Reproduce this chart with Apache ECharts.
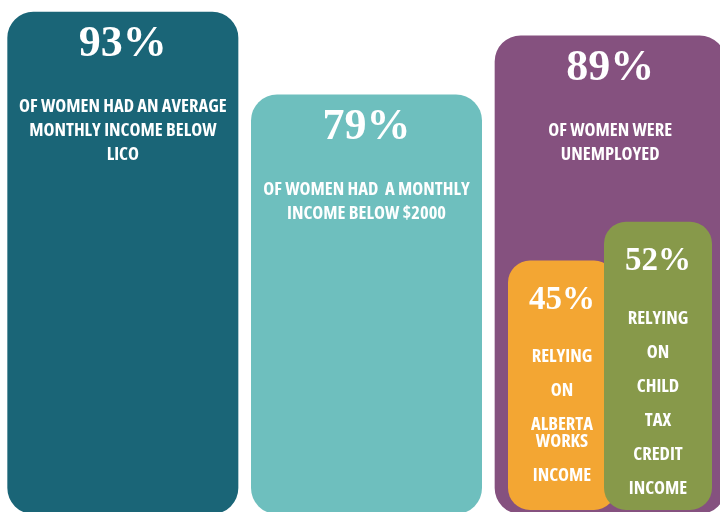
<!DOCTYPE html>
<html>
<head>
<meta charset="utf-8">
<script src="https://cdn.jsdelivr.net/npm/echarts@6/dist/echarts.min.js"></script>
<style>
  html, body { margin: 0; padding: 0; background: #fff; }
  #chart { width: 720px; height: 512px; }
</style>
</head>
<body>
<div id="chart"></div>
<script>
const mainCategories = ['Below LICO', 'Below $2000', 'Unemployed'];
const mainPercent = [93, 79, 89];
const mainCaptions = [
  ['OF WOMEN HAD AN AVERAGE', 'MONTHLY INCOME BELOW', 'LICO'],
  ['OF WOMEN HAD  A MONTHLY', 'INCOME BELOW $2000'],
  ['OF WOMEN WERE', 'UNEMPLOYED']
];
const mainColors = ['#1a6577', '#6ebfbe', '#85517f'];

const subCategories = ['Alberta Works', 'Child Tax Credit'];
const subPercent = [45, 52];
const subCaptions = [
  ['RELYING', 'ON', 'ALBERTA WORKS', 'INCOME'],
  ['RELYING', 'ON', 'CHILD', 'TAX', 'CREDIT', 'INCOME']
];
const subColors = ['#f3a633', '#87994a'];

const serif = '"Liberation Serif", "DejaVu Serif", serif';
// Open Sans has a width axis, so "condensed" gives a narrow poster face
const caps = { fontFamily: '"Open Sans", sans-serif', fontWeight: 'bold condensed', fontSize: 18.5, color: '#fff' };

function mainLabel(p) {
  const lines = mainCaptions[p.dataIndex].map(l => '{t|' + l + '}').join('\n');
  return '{p|' + mainPercent[p.dataIndex] + '%}\n{g| }\n' + lines;
}

function subLabel(p) {
  // words of one caption item wrap tightly, items get an empty line between them
  const items = subCaptions[p.dataIndex].map(item =>
    item.split(' ').map(w => '{u|' + w + '}').join('\n'));
  return '{p|' + subPercent[p.dataIndex] + '%}\n{g| }\n' + items.join('\n{s| }\n');
}

const chart = echarts.init(document.getElementById('chart'));
chart.setOption({
  backgroundColor: '#fff',
  animation: false,
  grid: [
    { left: 1, width: 731, top: 0, bottom: -2, outerBoundsMode: 'none' },
    { left: 508, width: 204, top: 0, bottom: 2, outerBoundsMode: 'none' }
  ],
  xAxis: [
    { type: 'category', gridIndex: 0, data: mainCategories, show: false },
    { type: 'category', gridIndex: 1, data: subCategories, show: false }
  ],
  yAxis: [
    { type: 'value', gridIndex: 0, min: 8, max: 95, show: false },
    { type: 'value', gridIndex: 1, min: 0, max: 92, show: false }
  ],
  series: [
    {
      type: 'bar',
      xAxisIndex: 0,
      yAxisIndex: 0,
      data: mainPercent,
      barWidth: 231,
      itemStyle: {
        color: p => mainColors[p.dataIndex],
        borderRadius: 26
      },
      label: {
        show: true,
        position: 'insideTop',
        distance: 11,
        color: '#fff',
        align: 'center',
        formatter: mainLabel,
        rich: {
          p: { fontFamily: serif, fontWeight: 'bold', fontSize: 44, lineHeight: 44, color: '#fff' },
          g: { fontSize: 10, lineHeight: 28 },
          t: Object.assign({ lineHeight: 24 }, caps)
        }
      }
    },
    {
      type: 'bar',
      xAxisIndex: 1,
      yAxisIndex: 1,
      data: subPercent,
      barWidth: 114,
      itemStyle: {
        color: p => subColors[p.dataIndex],
        borderRadius: 22
      },
      label: {
        show: true,
        position: 'insideTop',
        distance: 23,
        color: '#fff',
        align: 'center',
        formatter: subLabel,
        rich: {
          p: { fontFamily: serif, fontWeight: 'bold', fontSize: 33, lineHeight: 34, color: '#fff' },
          g: { fontSize: 10, lineHeight: 31 },
          s: { fontSize: 10, lineHeight: 17 },
          u: Object.assign({ lineHeight: 17 }, caps)
        }
      }
    }
  ]
});
</script>
</body>
</html>
